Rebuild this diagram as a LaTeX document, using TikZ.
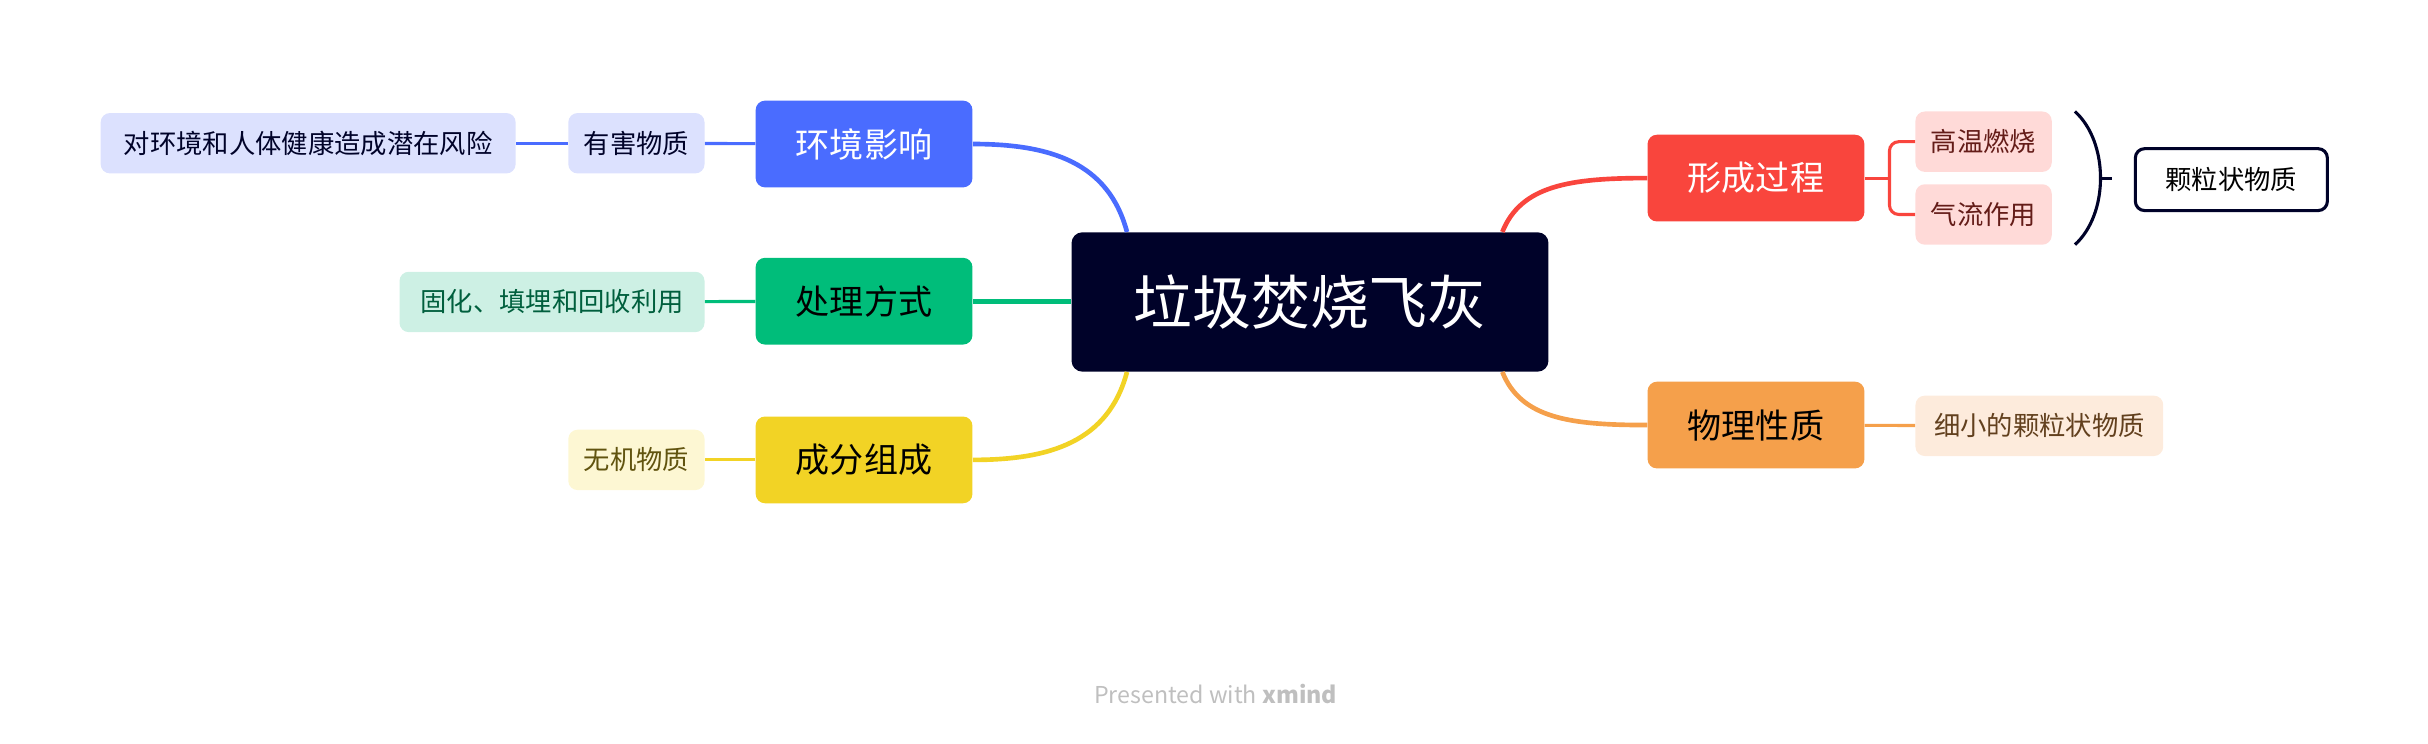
\documentclass[tikz,border=0pt]{standalone}
\usepackage{fontspec}
\setmainfont{Noto Sans CJK SC}
\usetikzlibrary{positioning,calc}
\definecolor{rootc}{HTML}{000229}
\definecolor{bluec}{HTML}{4A6CFF}
\definecolor{bluel}{HTML}{DCE1FE}
\definecolor{greenc}{HTML}{00BD7A}
\definecolor{greenl}{HTML}{CDF0E4}
\definecolor{yellowc}{HTML}{F2D325}
\definecolor{yellowl}{HTML}{FDF7D3}
\definecolor{redc}{HTML}{F9453D}
\definecolor{redl}{HTML}{FFDAD8}
\definecolor{orangec}{HTML}{F5A04B}
\definecolor{orangel}{HTML}{FDEBDC}
\begin{document}
\begin{tikzpicture}[x=1pt, y=-1pt,
    branch/.style={rounded corners=6pt, minimum width=140pt, minimum height=56pt, inner sep=0pt, font=\fontsize{22}{26}\selectfont},
    leaf/.style={rounded corners=6pt, minimum height=39pt, inner sep=0pt, font=\fontsize{17}{20}\selectfont},
    main/.style={line width=3pt},
    sub/.style={line width=2pt}]

      \useasboundingbox (0,0) rectangle (1568,480);
      \node[fill=rootc, text=white, rounded corners=7pt, minimum width=308pt, minimum height=90pt, font=\fontsize{38}{44}\selectfont] (root) at (846,195) {垃圾焚烧飞灰};

      % left side
      \node[branch, fill=bluec, text=white] (env) at (558,93) {环境影响};
      \node[branch, fill=greenc] (treat) at (558,194.5) {处理方式};
      \node[branch, fill=yellowc] (comp) at (558,297) {成分组成};
      \node[leaf, fill=bluel, text=rootc, minimum width=88pt] (harm) at (411,92.5) {有害物质};
      \node[leaf, fill=bluel, text=rootc, minimum width=268pt] (risk) at (199,92.5) {对环境和人体健康造成潜在风险};
      \node[leaf, fill=greenl, text=greenc!50!black, minimum width=197pt] (solid) at (356.5,195) {固化、填埋和回收利用};
      \node[leaf, fill=yellowl, text=yellowc!40!black, minimum width=88pt] (inorg) at (411,297) {无机物质};

      % right side
      \node[branch, fill=redc, text=white] (form) at (1134,115) {形成过程};
      \node[branch, fill=orangec] (phys) at (1134,274.5) {物理性质};
      \node[leaf, fill=redl, text=redc!40!black, minimum width=88pt] (hot) at (1281,91.5) {高温燃烧};
      \node[leaf, fill=redl, text=redc!40!black, minimum width=88pt] (air) at (1281,138.5) {气流作用};
      \node[leaf, fill=orangel, text=orangec!40!black, minimum width=160pt] (fine) at (1317,275) {细小的颗粒状物质};
      \node[draw=rootc, line width=2pt, rounded corners=6pt, minimum width=124pt, minimum height=40pt, font=\fontsize{17}{20}\selectfont] (grain) at (1441,116) {颗粒状物质};
      \coordinate (brt) at (1340,72);
      \coordinate (brb) at (1340,158);

      \node[text=black!25, font=\fontsize{15}{18}\selectfont] (credit) at (785,448) {Presented with \textbf{xmind}};

      \draw[main, bluec] ($(root.north west)+(36,0)$) .. controls ++(-12,-45) and ++(50,0) .. (env.east);
      \draw[main, greenc] (root.west |- treat) -- (treat.east);
      \draw[main, yellowc] ($(root.south west)+(36,0)$) .. controls ++(-12,45) and ++(50,0) .. (comp.east);
      \draw[main, redc] ($(root.north east)+(-30,0)$) .. controls ++(12,-30) and ++(-50,0) .. (form.west);
      \draw[main, orangec] ($(root.south east)+(-30,0)$) .. controls ++(12,30) and ++(-50,0) .. (phys.west);

      \draw[sub, bluec] (env) -- (harm);
      \draw[sub, bluec] (harm) -- (risk);
      \draw[sub, greenc] (treat) -- (solid);
      \draw[sub, yellowc] (comp) -- (inorg);
      \draw[sub, orangec] (phys) -- (fine);
      \draw[sub, redc] (form.east) -- ++(16,0) coordinate (fork);
      \draw[sub, redc, rounded corners=6pt] (hot.west) -| (fork) |- (air.west);
      \draw[line width=2pt, rootc] (brt) .. controls ++(22,20) and ++(22,-20) .. (brb);
      \draw[line width=2pt, rootc] (1356,115) -- (1364,115);
              \end{tikzpicture}
\end{document}
